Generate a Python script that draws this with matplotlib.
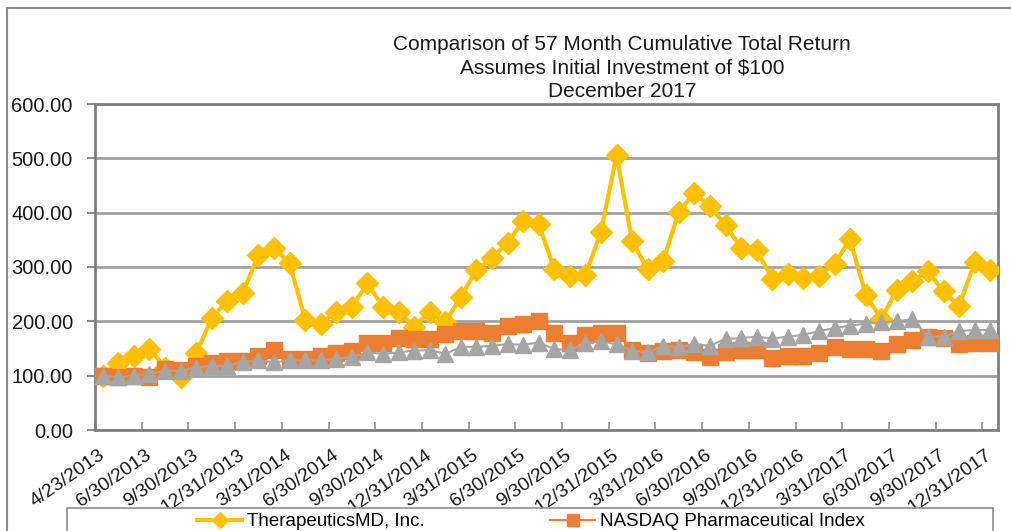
import matplotlib
matplotlib.use("Agg")
import matplotlib.pyplot as plt
from matplotlib.patches import Rectangle
from matplotlib.lines import Line2D
import numpy as np

plt.rcParams['font.family'] = ['Liberation Sans', 'DejaVu Sans']

title_lines = ["Comparison of 57 Month Cumulative Total Return",
               "Assumes Initial Investment of $100",
               "December 2017"]

tick_labels = ['4/23/2013', '6/30/2013', '9/30/2013', '12/31/2013',
               '3/31/2014', '6/30/2014', '9/30/2014', '12/31/2014',
               '3/31/2015', '6/30/2015', '9/30/2015', '12/31/2015',
               '3/31/2016', '6/30/2016', '9/30/2016', '12/31/2016',
               '3/31/2017', '6/30/2017', '9/30/2017', '12/31/2017']

tmd = [100, 123, 137, 149, 115, 98, 141, 206, 238, 253, 322, 335, 307, 203,
       196, 217, 227, 270, 226, 218, 190, 218, 199, 245, 295, 316, 345, 384,
       379, 296, 284, 285, 365, 506, 347, 296, 311, 402, 436, 412, 377, 335,
       331, 278, 288, 279, 284, 306, 351, 249, 204, 258, 274, 292, 255, 228,
       309, 295]

pharma = [100, 97, 100, 97, 113, 110, 118, 123, 127, 127, 136, 148, 131, 130,
          136, 142, 145, 161, 161, 170, 168, 167, 176, 182, 182, 179, 191, 195,
          201, 178, 161, 174, 178, 178, 148, 142, 145, 148, 143, 134, 143, 147,
          147, 132, 136, 136, 142, 153, 149, 149, 145, 158, 165, 171, 170, 158,
          160, 160]

composite = [100, 97, 100, 103, 109, 109, 115, 118, 118, 125, 128, 125, 128,
             128, 128, 131, 134, 143, 140, 143, 146, 147, 140, 153, 153, 155,
             158, 157, 161, 149, 147, 160, 163, 158, 146, 143, 155, 152, 158,
             155, 168, 169, 172, 168, 172, 175, 182, 188, 192, 196, 198, 200,
             204, 172, 172, 182, 184, 184]

series_names = ["TherapeuticsMD, Inc.", "NASDAQ Pharmaceutical Index"]

W, H = 1012, 531
fig = plt.figure(figsize=(W / 100, H / 100), dpi=100)
fig.patch.set_facecolor('white')

ax = fig.add_axes([95 / W, 1 - 430 / H, (998 - 95) / W, (430 - 104) / H])

x = np.arange(len(tmd))
l1, = ax.plot(x, tmd, color='#FFC000', lw=3, marker='D', ms=11,
              markeredgecolor='#FFC000', zorder=3, label=series_names[0])
l2, = ax.plot(x, pharma, color='#ED7D31', lw=1.5, marker='s', ms=11,
              markeredgecolor='#ED7D31', zorder=4, label=series_names[1])
l3, = ax.plot(x, composite, color='#A5A5A5', lw=1.5, marker='^', ms=12,
              markeredgecolor='#A5A5A5', zorder=5)

ax.set_xlim(-0.5, len(tmd) - 0.5)
ax.set_ylim(0, 600)

yt = np.arange(0, 601, 100)
ax.set_yticks(yt)
ax.set_yticklabels([f"{v:.2f}" for v in yt], fontsize=14.5, color='#1a1a1a')
ax.tick_params(axis='y', direction='out', length=6, width=1.5,
               color='#8c8c8c', pad=10)

major = np.arange(0, len(tmd), 3)
ax.set_xticks(major)
ax.set_xticklabels(tick_labels, fontsize=14, color='#1a1a1a', rotation=35,
                   ha='right', va='center', rotation_mode='anchor')
ax.tick_params(axis='x', which='major', length=0, pad=17)
ax.set_xticks(np.arange(-0.5, len(tmd) - 0.5, 3), minor=True)
ax.tick_params(axis='x', which='minor', direction='in', length=6, width=1.2,
               color='#8c8c8c')

ax.grid(axis='y', color='#a0a0a0', lw=2)
ax.set_axisbelow(True)
for s in ax.spines.values():
    s.set_color('#7f7f7f')
    s.set_linewidth(2)

fig.text(622 / W, 1 - 68 / H, "\n".join(title_lines), ha='center',
         va='center', fontsize=15, color='#1a1a1a', linespacing=1.3,
         multialignment='center')

# outer chart border (left and top visible)
fig.add_artist(Line2D([7 / W, 7 / W], [0, 1 - 8 / H], transform=fig.transFigure,
                      color='#8c8c8c', lw=1.5))
fig.add_artist(Line2D([7 / W, 1], [1 - 8 / H, 1 - 8 / H], transform=fig.transFigure,
                      color='#8c8c8c', lw=1.5))

# legend box
fig.add_artist(Rectangle((67 / W, 1 - 545 / H), (993 - 67) / W, 37 / H,
                         transform=fig.transFigure, facecolor='white',
                         edgecolor='#8c8c8c', lw=1.2))
fig.legend(handles=[l1, l2], loc='upper center',
           bbox_to_anchor=(531 / W, 1 - 500 / H), ncol=2, frameon=False,
           fontsize=13.5, handlelength=2.4, handletextpad=0.25,
           columnspacing=6.7, borderpad=0.2, markerscale=0.75)

fig.savefig("out.png", dpi=100, facecolor='white')
